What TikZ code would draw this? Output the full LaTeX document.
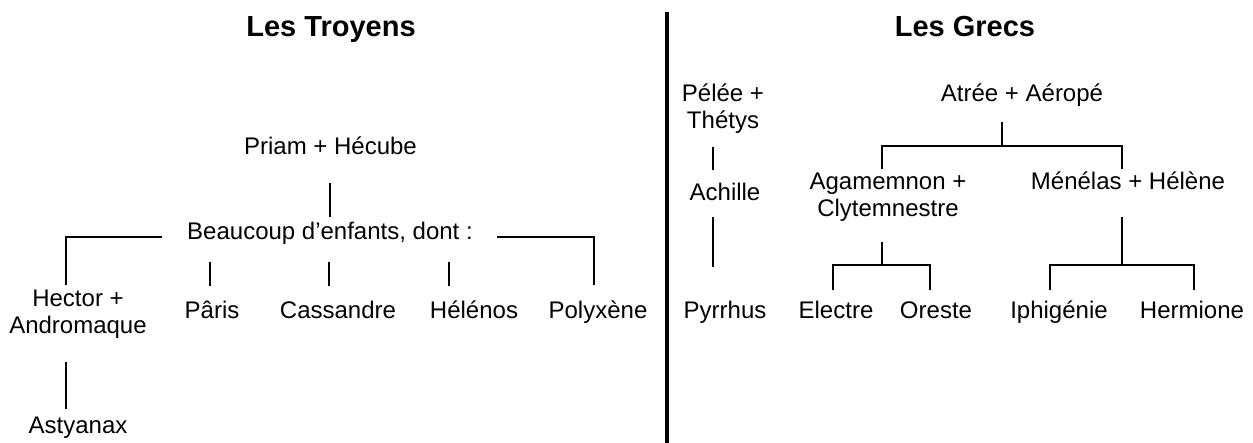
\documentclass[tikz,border=0pt]{standalone}
\usepackage{fontspec}
\setmainfont{Liberation Sans}
\usetikzlibrary{calc}
\tikzset{
  lbl/.style={font=\fontsize{24}{26.5}\selectfont, inner sep=0pt, anchor=base},
  ttl/.style={font=\bfseries\fontsize{29}{33}\selectfont, inner sep=0pt, anchor=base},
  conn/.style={line width=1.8pt, line cap=butt},
  divider/.style={line width=4pt}
}
\newcommand{\twolines}[2]{\begin{tabular}[t]{@{}c@{}}#1\\#2\end{tabular}}
\begin{document}
\begin{tikzpicture}[x=1pt,y=-1pt]
\useasboundingbox (0,0) rectangle (1253,443);
% titles
\node[ttl] (troyens) at (331,37) {Les Troyens};
\node[ttl] (grecs) at (965,37) {Les Grecs};
% divider
\coordinate (dtop) at (667,12);
\coordinate (dbot) at (667,443);
\draw[divider] (dtop) -- (dbot);
% Trojans
\node[lbl] (priam) at (330.5,155) {Priam + Hécube};
\node[lbl] (beaucoup) at (330,240) {Beaucoup d’enfants, dont :};
\node[lbl] (hector) at (78,307) {\twolines{Hector +}{Andromaque}};
\node[lbl] (paris) at (212,319) {Pâris};
\node[lbl] (cassandre) at (338,319) {Cassandre};
\node[lbl] (helenos) at (474,319) {Hélénos};
\node[lbl] (polyxene) at (598,319) {Polyxène};
\node[lbl] (astyanax) at (78,433) {Astyanax};
\draw[conn] ($(priam.base)+(-0.5,28)$) -- ($(beaucoup.base)+(0,-23)$);
\draw[conn] ($(beaucoup.base)+(-168,-3)$) -| ($(hector.base)+(-12,-22)$);
\draw[conn] ($(beaucoup.base)+(167,-3)$) -| ($(polyxene.base)+(-4,-34)$);
\draw[conn] ($(paris.base)+(-2,-57)$) -- ($(paris.base)+(-2,-33)$);
\draw[conn] ($(cassandre.base)+(-9,-57)$) -- ($(cassandre.base)+(-9,-33)$);
\draw[conn] ($(helenos.base)+(-25,-57)$) -- ($(helenos.base)+(-25,-33)$);
\draw[conn] ($(hector.base)+(-12,55)$) -- ($(astyanax.base)+(-12,-24)$);
% Greeks
\node[lbl] (pelee) at (723,102) {\twolines{Pélée +}{Thétys}};
\node[lbl] (achille) at (725,201) {Achille};
\node[lbl] (pyrrhus) at (725,319) {Pyrrhus};
\node[lbl] (atree) at (1022,102) {Atrée + Aéropé};
\node[lbl] (agam) at (888,190) {\twolines{Agamemnon +}{Clytemnestre}};
\node[lbl] (menelas) at (1128,190) {Ménélas + Hélène};
\node[lbl] (electre) at (836,319) {Electre};
\node[lbl] (oreste) at (936,319) {Oreste};
\node[lbl] (iphigenie) at (1059,319) {Iphigénie};
\node[lbl] (hermione) at (1192,319) {Hermione};
\draw[conn] ($(pelee.base)+(-10,45)$) -- ($(achille.base)+(-12,-31)$);
\draw[conn] ($(achille.base)+(-12,16)$) -- ($(pyrrhus.base)+(-12,-52)$);
\coordinate (aj) at ($(atree.base)+(-20,44)$);
\draw[conn] ($(atree.base)+(-20,20)$) -- (aj);
\draw[conn] ($(agam.base)+(-6,-21)$) |- (aj) -| ($(menelas.base)+(-6,-21)$);
\coordinate (gj) at ($(agam.base)+(-6,75)$);
\draw[conn] ($(agam.base)+(-6,52)$) -- (gj);
\draw[conn] ($(electre.base)+(-3,-29)$) |- (gj) -| ($(oreste.base)+(-6,-29)$);
\coordinate (mj) at ($(menelas.base)+(-6,75)$);
\draw[conn] ($(menelas.base)+(-6,27)$) -- (mj);
\draw[conn] ($(iphigenie.base)+(-9,-29)$) |- (mj) -| ($(hermione.base)+(2,-29)$);
\end{tikzpicture}
\end{document}
